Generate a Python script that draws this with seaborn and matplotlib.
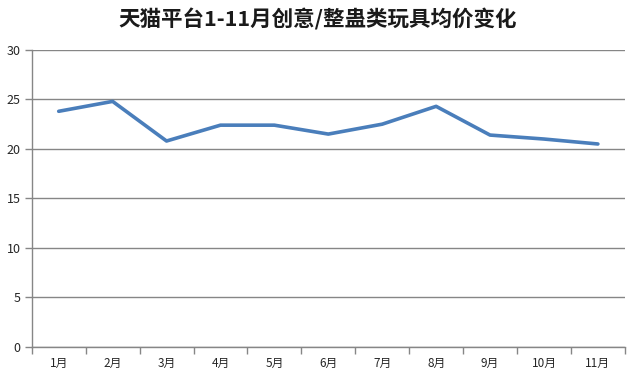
import matplotlib
matplotlib.use("Agg")
import matplotlib.pyplot as plt
import seaborn as sns
import pandas as pd
import numpy as np

months = ["1月", "2月", "3月", "4月", "5月", "6月", "7月", "8月", "9月", "10月", "11月"]
avg_price = [23.8, 24.8, 20.8, 22.4, 22.4, 21.5, 22.5, 24.3, 21.4, 21.0, 20.5]
yticks = [0, 5, 10, 15, 20, 25, 30]
title = "天猫平台1-11月创意/整蛊类玩具均价变化"

sns.set_theme(style="white")
plt.rcParams['font.family'] = ['Noto Sans CJK SC', 'DejaVu Sans']

df = pd.DataFrame({"month": months, "price": avg_price, "pos": np.arange(len(months))})

fig = plt.figure(figsize=(6.35, 3.78), dpi=100)
ax = fig.add_axes([0.050, 0.082, 0.934, 0.786])

sns.lineplot(data=df, x="pos", y="price", ax=ax, color="#4A7EBB", linewidth=2.6, sort=False)

ax.set_xlim(-0.5, len(months) - 0.5)
ax.set_ylim(0, 30)
ax.set_yticks(yticks)
ax.set_yticklabels([str(v) for v in yticks], fontsize=9)
ax.set_xticks(df["pos"])
ax.set_xticklabels(months, fontsize=8.5)
ax.set_xticks(np.arange(-0.5, len(months), 1.0), minor=True)
ax.tick_params(axis="x", which="major", length=0, pad=7)
ax.tick_params(axis="x", which="minor", length=5, color="#868686", width=1, direction="out", bottom=True)
ax.tick_params(axis="y", which="major", length=5, color="#868686", width=1, direction="out", left=True, pad=3)
ax.set_xlabel("")
ax.set_ylabel("")
ax.yaxis.grid(True, color="#868686", linewidth=1)
ax.xaxis.grid(False)
for s in ["top", "right"]:
    ax.spines[s].set_visible(False)
for s in ["left", "bottom"]:
    ax.spines[s].set_color("#868686")
    ax.spines[s].set_linewidth(1)
ax.set_axisbelow(True)

fig.text(0.5, 0.948, title, ha="center", va="center", fontsize=15.5, fontweight="bold", color="#1a1a1a")

fig.savefig("out.png", dpi=100)
